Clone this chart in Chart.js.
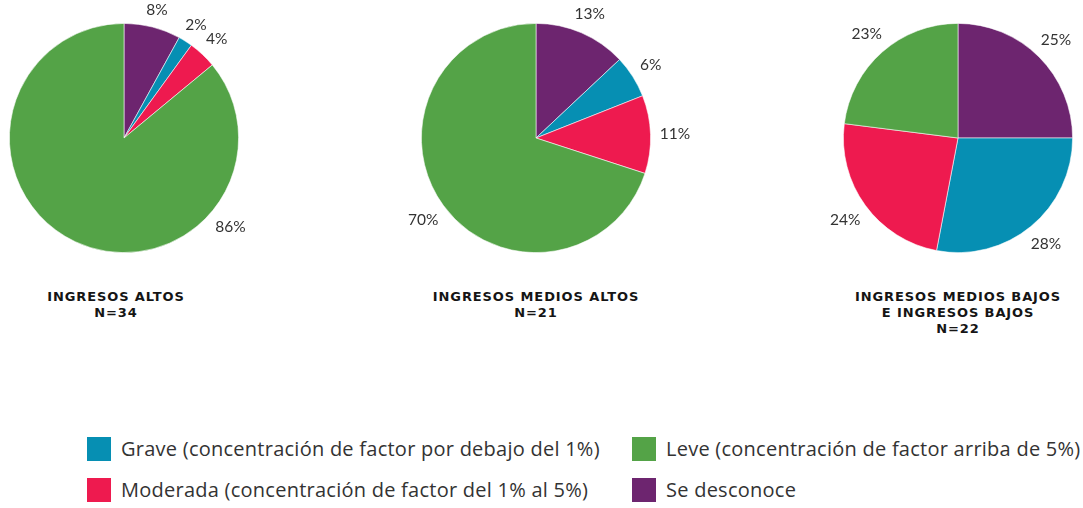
<!DOCTYPE html>
<html lang="es">
<head>
    <meta charset="UTF-8">
    <title>Gravedad por nivel de ingresos</title>
    <script src="https://cdn.jsdelivr.net/npm/chart.js"></script>
    <style>
        body { margin: 0; width: 1083px; height: 508px; overflow: hidden; background: #fff; position: relative; font-family: "Lato", sans-serif; color: #333; }
        canvas { position: absolute; top: 0; }
        .titulo { position: absolute; top: 289px; width: 260px; text-align: center; font-family: "DejaVu Sans", sans-serif; font-weight: bold; font-size: 13px; line-height: 16px; color: #151515; letter-spacing: 0.9px; }
        .leyenda { position: absolute; display: flex; align-items: center; font-family: "Open Sans", sans-serif; font-size: 20px; letter-spacing: 0.25px; color: #333; white-space: nowrap; }
        .leyenda span.caja { width: 24px; height: 24px; margin-right: 10px; display: inline-block; }
    </style>
</head>
<body>
    <canvas id="pie1" width="340" height="276"></canvas>
    <canvas id="pie2" width="340" height="276"></canvas>
    <canvas id="pie3" width="340" height="276"></canvas>
    <div id="titulos"></div>
    <div id="leyenda"></div>

    <script>
        // orden de las porciones (desde las 12 en sentido horario)
        const categorias = [
            "Se desconoce",
            "Grave (concentración de factor por debajo del 1%)",
            "Moderada (concentración de factor del 1% al 5%)",
            "Leve (concentración de factor arriba de 5%)"
        ];
        const colores = ["#6d256f", "#068fb3", "#ee1a4f", "#54a347"];

        const ingresosAltos = [8, 2, 4, 86];
        const ingresosMediosAltos = [13, 6, 11, 70];
        const ingresosBajos = [25, 28, 24, 23];

        const titulos = [
            ["INGRESOS ALTOS", "N=34"],
            ["INGRESOS MEDIOS ALTOS", "N=21"],
            ["INGRESOS MEDIOS BAJOS", "E INGRESOS BAJOS", "N=22"]
        ];

        // orden de la leyenda (por columnas)
        const ordenLeyenda = [1, 2, 3, 0];

        const etiquetas = {
            id: "etiquetas",
            afterDatasetsDraw(chart, args, opts) {
                const ctx = chart.ctx;
                const meta = chart.getDatasetMeta(0);
                const valores = chart.data.datasets[0].data;
                ctx.save();
                ctx.font = "15.5px Lato, sans-serif";
                ctx.fillStyle = "#333";
                ctx.textAlign = "center";
                ctx.textBaseline = "middle";
                meta.data.forEach((arc, i) => {
                    const p = arc.getProps(["x", "y", "startAngle", "endAngle", "outerRadius"], true);
                    let ang = (p.startAngle + p.endAngle) / 2;
                    if (opts.angulos && opts.angulos[i] !== undefined) ang = opts.angulos[i] * Math.PI / 180;
                    const txt = valores[i] + "%";
                    const w = ctx.measureText(txt).width / 2;
                    const d = p.outerRadius + 9 + w * Math.abs(Math.cos(ang)) + 6 * Math.abs(Math.sin(ang));
                    ctx.fillText(txt, p.x + Math.cos(ang) * d, p.y + Math.sin(ang) * d);
                });
                ctx.restore();
            }
        };

        function crearPie(id, datos, cx, angulos) {
            const canvas = document.getElementById(id);
            canvas.style.left = (cx - 170) + "px";
            new Chart(canvas, {
                type: "pie",
                data: {
                    labels: categorias,
                    datasets: [{
                        data: datos,
                        backgroundColor: colores,
                        borderColor: "rgba(255,255,255,0.7)",
                        borderWidth: 0.8
                    }]
                },
                options: {
                    responsive: false,
                    animation: false,
                    layout: { padding: { top: 23, bottom: 23, left: 55, right: 55 } },
                    plugins: {
                        legend: { display: false },
                        tooltip: { enabled: false },
                        etiquetas: { angulos: angulos || {} }
                    }
                },
                plugins: [etiquetas]
            });
        }

        crearPie("pie1", ingresosAltos, 124, { 3: 40 });
        crearPie("pie2", ingresosMediosAltos, 536);
        crearPie("pie3", ingresosBajos, 958);

        // títulos
        const centrosTitulo = [116, 536, 958];
        const cont = document.getElementById("titulos");
        titulos.forEach((lineas, i) => {
            const div = document.createElement("div");
            div.className = "titulo";
            div.style.left = (centrosTitulo[i] - 130) + "px";
            div.innerHTML = lineas.join("<br>");
            cont.appendChild(div);
        });

        // leyenda
        const posLeyenda = [[87, 439], [87, 480], [632, 439], [632, 480]];
        const ley = document.getElementById("leyenda");
        ordenLeyenda.forEach((idx, k) => {
            const item = document.createElement("div");
            item.className = "leyenda";
            item.style.left = posLeyenda[k][0] + "px";
            item.style.top = (posLeyenda[k][1] - 4) + "px";
            item.innerHTML = `<span class="caja" style="background:${colores[idx]}"></span>${categorias[idx]}`;
            ley.appendChild(item);
        });
    </script>
</body>
</html>
